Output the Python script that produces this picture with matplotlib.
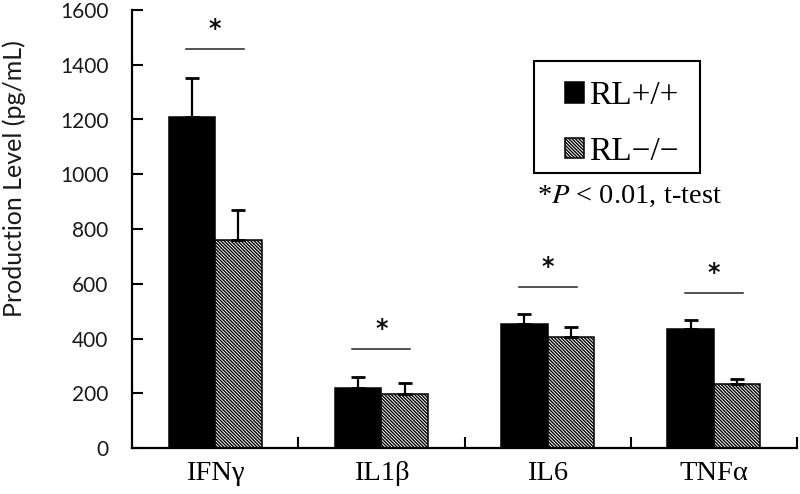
import matplotlib
matplotlib.use("Agg")
import matplotlib.pyplot as plt
import numpy as np
from matplotlib.patches import Rectangle

categories = ["IFNγ", "IL1β", "IL6", "TNFα"]
wt_values = [1210, 218, 453, 435]
wt_errors = [140, 42, 37, 33]
ko_values = [760, 197, 405, 234]
ko_errors = [110, 40, 37, 18]
sig_line_heights = [1458, 362, 588, 566]
series_labels = ["RL+/+", "RL\u2212/\u2212"]
y_ticks = [0, 200, 400, 600, 800, 1000, 1200, 1400, 1600]

plt.rcParams['hatch.linewidth'] = 1.0
plt.rcParams['mathtext.fontset'] = 'stix'

fig = plt.figure(figsize=(8, 4.94), dpi=100)
ax = fig.add_axes([132/800, 1-448/494, 665/800, 438/494])

x = np.arange(len(categories))
w = 0.28
b1 = ax.bar(x - w/2, wt_values, w, color='black', edgecolor='black', linewidth=1.1,
            label=series_labels[0], zorder=2)
b2 = ax.bar(x + w/2, ko_values, w, color='white', edgecolor='black', linewidth=1.1,
            hatch='\\' * 10, label=series_labels[1], zorder=2)
ax.errorbar(x - w/2, wt_values, yerr=[np.zeros(len(x)), wt_errors], fmt='none',
            ecolor='black', elinewidth=1.6, capsize=5.2, capthick=2, zorder=3)
ax.errorbar(x + w/2, ko_values, yerr=[np.zeros(len(x)), ko_errors], fmt='none',
            ecolor='black', elinewidth=1.6, capsize=5.2, capthick=2, zorder=3)

for xi, h in zip(x, sig_line_heights):
    ax.plot([xi - 0.175, xi + 0.175], [h, h], color='#222222', lw=1.1, zorder=3)
    ax.text(xi, h + 73, "*", ha='center', va='center', fontsize=17, fontweight='bold',
            family='DejaVu Sans', color='#111111')

ax.set_xlim(-0.5, 3.5)
ax.set_ylim(0, 1600)
ax.set_yticks(y_ticks)
ax.set_yticklabels([str(v) for v in y_ticks], family='Lato', fontsize=15, color='#1a1a1a')
ax.set_xticks([0.5, 1.5, 2.5, 3.5], minor=False)
ax.set_xticklabels([])
ax.set_xticks(x, minor=True)
ax.set_xticklabels(categories, minor=True, family='Liberation Serif', fontsize=20.5)
ax.tick_params(axis='x', which='minor', length=0, pad=9)
ax.tick_params(axis='x', which='major', direction='in', length=8, width=1.5)
ax.tick_params(axis='y', direction='in', length=8, width=1.5, pad=17)
for s in ['top', 'right']:
    ax.spines[s].set_visible(False)
for s in ['left', 'bottom']:
    ax.spines[s].set_linewidth(1.6)
    ax.spines[s].set_color('black')

ax.set_ylabel("Production Level (pg/mL)", family='Lato', fontsize=18, color='#1a1a1a', va='center')
ax.yaxis.set_label_coords((14-132)/665, (448-179)/438)

leg = fig.legend(handles=[b1, b2], labels=series_labels, loc='upper left',
                 bbox_to_anchor=(548/800, 1-64/494), frameon=False,
                 prop={'family': 'Liberation Serif', 'size': 24},
                 handlelength=0.58, handleheight=0.58, handletextpad=0.15,
                 labelspacing=0.75, borderpad=0.0)
fig.patches.append(Rectangle((534/800, 1-173/494), 166/800, 112/494, transform=fig.transFigure,
                             fill=False, edgecolor='black', linewidth=1.5))

fig.text(537/800, 1-196/494, "*$P$ < 0.01, t-test", ha='left', va='center',
         family='Liberation Serif', fontsize=20.5)

fig.savefig("out.png", dpi=100)
